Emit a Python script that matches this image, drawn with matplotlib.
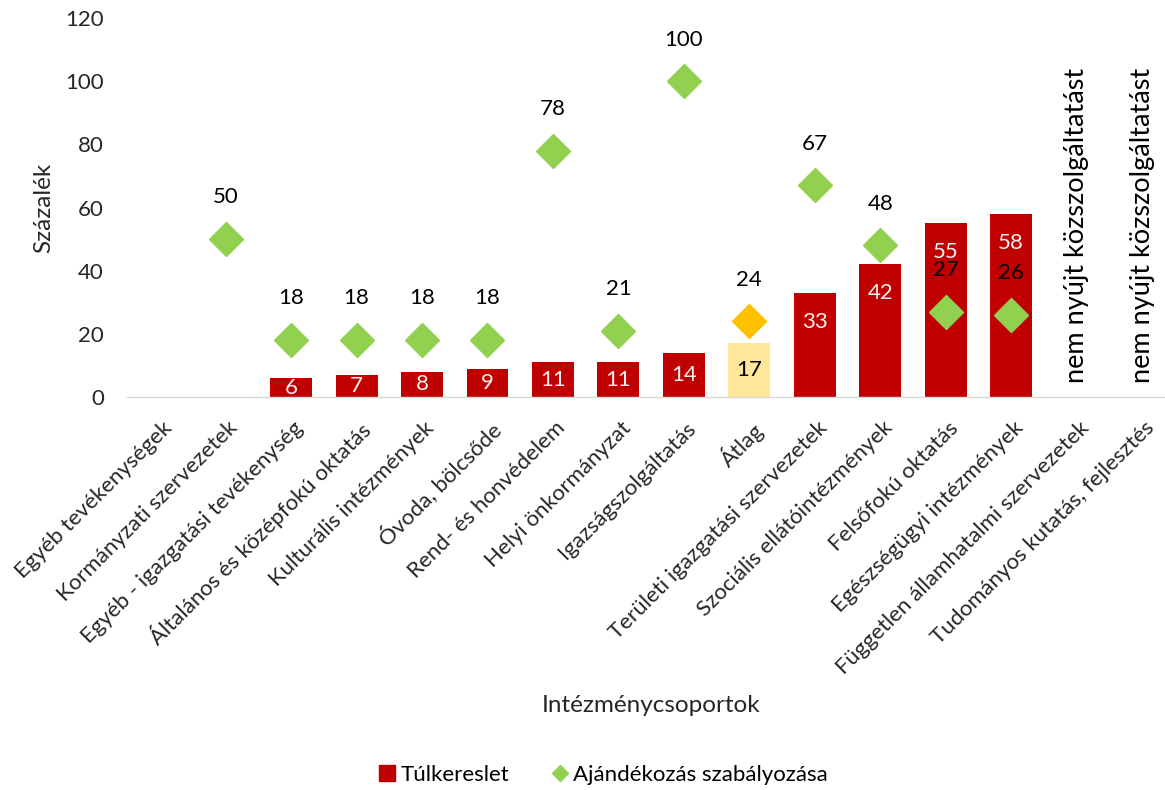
import numpy as np
import matplotlib
matplotlib.use('Agg')
import matplotlib.pyplot as plt
from matplotlib.lines import Line2D
from matplotlib.transforms import ScaledTranslation

plt.rcParams['font.family'] = ['Lato', 'DejaVu Sans']

# intézménycsoportok
categories = ['Egyéb tevékenységek', 'Kormányzati szervezetek',
              'Egyéb - igazgatási tevékenység', 'Általános és középfokú oktatás',
              'Kulturális intézmények', 'Óvoda, bölcsőde', 'Rend- és honvédelem',
              'Helyi önkormányzat', 'Igazságszolgáltatás', 'Átlag',
              'Területi igazgatási szervezetek', 'Szociális ellátóintézmények',
              'Felsőfokú oktatás', 'Egészségügyi intézmények',
              'Független államhatalmi szervezetek', 'Tudományos kutatás, fejlesztés']
nan = np.nan
tulkereslet = [nan, nan, 6, 7, 8, 9, 11, 11, 14, 17, 33, 42, 55, 58, nan, nan]
ajandekozas = [nan, 50, 18, 18, 18, 18, 78, 21, 100, 24, 67, 48, 27, 26, nan, nan]
no_service = ['Független államhatalmi szervezetek', 'Tudományos kutatás, fejlesztés']
avg_name = 'Átlag'

RED = '#c00000'
GREEN = '#92d050'
AVG_BAR = '#ffe699'
AVG_DIAMOND = '#ffc000'
TXT = '#262626'

fig = plt.figure(figsize=(11.65, 7.9), dpi=100)
ax = fig.add_axes([0.1094, 0.4975, 0.8906, 0.4795])

x = np.arange(len(categories))
bar_colors = [AVG_BAR if c == avg_name else RED for c in categories]
ax.bar(x, np.nan_to_num(tulkereslet), width=0.64, color=bar_colors, zorder=2)

# felirat a hasábon belül, a tetejéhez közel
for xi, v, c in zip(x, tulkereslet, categories):
    if np.isnan(v):
        continue
    ypos = max(v / 2, v - 9.2)
    ax.text(xi, ypos, '%d' % v, ha='center', va='center', fontsize=16,
            color='black' if c == avg_name else '#f2f2f2', zorder=4)

for xi, v, c in zip(x, ajandekozas, categories):
    if np.isnan(v):
        continue
    col = AVG_DIAMOND if c == avg_name else GREEN
    ax.plot(xi, v, marker='D', markersize=17.5, color=col, linestyle='none', zorder=3)
    ax.annotate('%d' % v, (xi, v), xytext=(0, 30), textcoords='offset points',
                ha='center', va='center', fontsize=16, color='black', zorder=4)

for name in no_service:
    xi = categories.index(name)
    ax.text(xi, 4.5, 'nem nyújt közszolgáltatást', rotation=90, ha='center',
            va='bottom', fontsize=19.5, color='black')

ax.set_xlim(-0.5, 15.35)
ax.set_ylim(0, 120)
ax.set_yticks(np.arange(0, 121, 20))
ax.tick_params(axis='y', length=0, pad=17, labelsize=16, labelcolor=TXT)
ax.set_xticks(x)
ax.set_xticklabels(categories, rotation=45, ha='right', rotation_mode='anchor',
                   fontsize=16, color=TXT)
ax.tick_params(axis='x', length=0, pad=15)
shift = ScaledTranslation(0.02, 0, fig.dpi_scale_trans)
for lab in ax.get_xticklabels():
    lab.set_transform(lab.get_transform() + shift)
for s in ['top', 'right', 'left']:
    ax.spines[s].set_visible(False)
ax.spines['bottom'].set_color('#d9d9d9')
ax.spines['bottom'].set_linewidth(1)

ax.set_ylabel('Százalék', fontsize=17.5, color=TXT, labelpad=8)
fig.text(651 / 1165, 1 - 705 / 790, 'Intézménycsoportok', ha='center', va='center',
         fontsize=17.5, color=TXT)

handles = [Line2D([], [], marker='s', markersize=11, color=RED, linestyle='none'),
           Line2D([], [], marker='D', markersize=8, color=GREEN, linestyle='none')]
fig.legend(handles, ['Túlkereslet', 'Ajándékozás szabályozása'], loc='center',
           bbox_to_anchor=(602 / 1165, 1 - 775 / 790), ncol=2, frameon=False,
           fontsize=16, handletextpad=0.1, columnspacing=1.8, handlelength=1.0)

fig.savefig('out.png', dpi=100)
